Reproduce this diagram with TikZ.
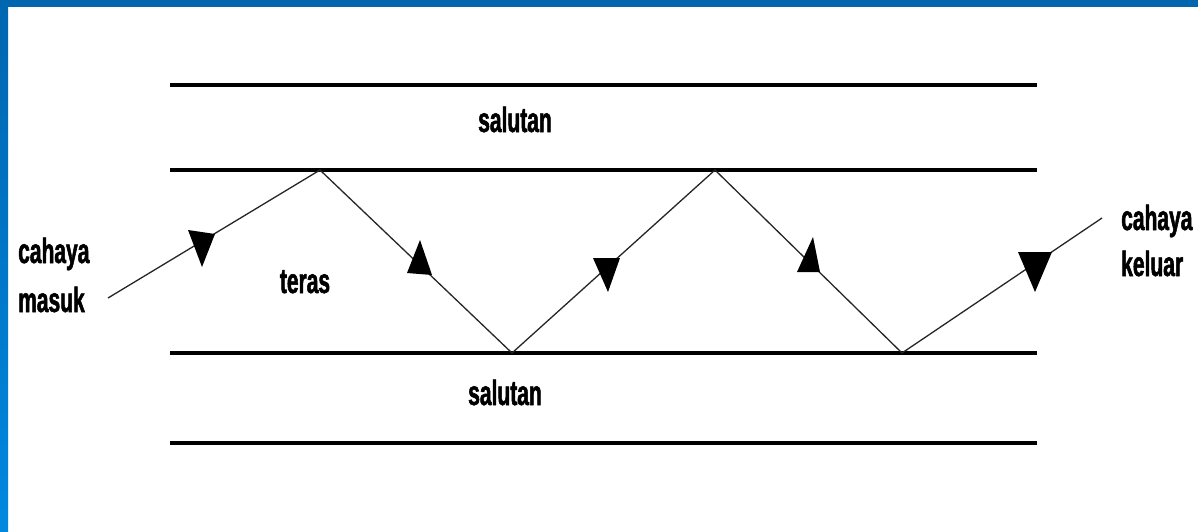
\documentclass[tikz,border=0pt]{standalone}
\usepackage{fontspec}
\newfontfamily\labelfont[FakeStretch=0.6,FakeBold=1.5]{Liberation Sans Bold}
\definecolor{frametop}{HTML}{0066B0}
\definecolor{framebot}{HTML}{0088E0}
\begin{document}
\begin{tikzpicture}[x=1pt,y=-1pt,
  layer/.style={line width=4pt,black},
  ray/.style={line width=1.3pt,black!85},
  tri/.style={fill=black},
  lbl/.style={font=\labelfont\fontsize{35}{42}\selectfont,inner sep=0pt}]
  % canvas and blue frame
  \useasboundingbox (0,0) rectangle (1198,531);
  \fill[white] (0,0) rectangle (1198,531);
  \shade[top color=frametop,bottom color=framebot] (0,0) rectangle (8,531);
  \fill[frametop] (0,0) rectangle (1198,7);
  % cladding / core boundaries
  \draw[layer] (170,85) -- (1037,85);
  \draw[layer] (170,170) -- (1037,170);
  \draw[layer] (170,353) -- (1037,353);
  \draw[layer] (170,443) -- (1037,443);
  % ray path
  \coordinate (in) at (108,298);
  \coordinate (p1) at (320,170);
  \coordinate (q1) at (512,353);
  \coordinate (p2) at (715,170);
  \coordinate (q2) at (902,353);
  \coordinate (out) at (1102,218);
  \draw[ray] (in) -- (p1) -- (q1) -- (p2) -- (q2) -- (out);
  % direction markers
  \fill[tri] (188,230) -- (215,234) -- (202,267) -- cycle;
  \fill[tri] (420,240) -- (432,275) -- (407,273) -- cycle;
  \fill[tri] (593,258) -- (620,258) -- (608,292) -- cycle;
  \fill[tri] (813,237) -- (820,272) -- (797,272) -- cycle;
  \fill[tri] (1018,252) -- (1052,252) -- (1035,292) -- cycle;
  % labels
  \node[lbl,anchor=base] (s1) at (515,132) {salutan};
  \node[lbl,anchor=base] (s2) at (505,405) {salutan};
  \node[lbl,anchor=base] (core) at (305,293) {teras};
  \node[lbl,anchor=base west] (in1) at (18,263) {cahaya};
  \node[lbl,anchor=base west] (in2) at (18,312) {masuk};
  \node[lbl,anchor=base west] (out1) at (1121,230) {cahaya};
  \node[lbl,anchor=base west] (out2) at (1121,276) {keluar};
\end{tikzpicture}
\end{document}
